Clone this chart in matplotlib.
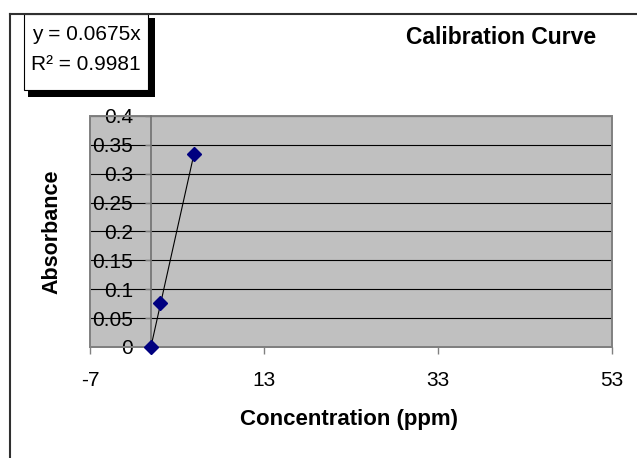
import matplotlib.pyplot as plt
from matplotlib.patches import Rectangle
from matplotlib.lines import Line2D
from matplotlib.ticker import FuncFormatter

plt.rcParams["font.family"] = ["Liberation Sans", "DejaVu Sans"]
plt.rcParams["axes.unicode_minus"] = False

# calibration data
concentration = [0, 1, 5]
absorbance = [0.0, 0.077, 0.334]
slope = 0.0675
r_squared = 0.9981
x_ticks = [-7, 13, 33, 53]
y_ticks = [0, 0.05, 0.1, 0.15, 0.2, 0.25, 0.3, 0.35, 0.4]

W, H = 637, 458
fig = plt.figure(figsize=(W / 100, H / 100), dpi=100)


def fx(px):
    return px / W


def fy(py):
    return 1 - py / H


ax = fig.add_axes([fx(90), fy(347), fx(612) - fx(90), fy(116) - fy(347)])
ax.set_facecolor("#C0C0C0")
ax.set_xlim(-7, 53)
ax.set_ylim(0, 0.4)

gray = "#808080"
# plot area border
ax.add_patch(Rectangle((0, 0), 1, 1, transform=ax.transAxes, fill=False,
                       edgecolor=gray, lw=1.4, clip_on=False, zorder=1))
for s in ["top", "right"]:
    ax.spines[s].set_visible(False)
ax.spines["left"].set_position(("data", 0))
ax.spines["left"].set_color("#707070")
ax.spines["left"].set_linewidth(1.2)
ax.spines["bottom"].set_color(gray)
ax.spines["bottom"].set_linewidth(1.2)

ax.set_xticks(x_ticks)
ax.set_yticks(y_ticks)
ax.xaxis.set_major_formatter(FuncFormatter(lambda v, p: f"{v:g}"))
ax.yaxis.set_major_formatter(FuncFormatter(lambda v, p: f"{v:g}"))
ax.tick_params(axis="y", direction="out", length=4, width=1, color=gray,
               labelsize=15, pad=9)
ax.tick_params(axis="x", direction="out", length=5, width=1, color=gray,
               labelsize=15, pad=12)
ax.yaxis.grid(True, color="black", lw=0.8)
ax.set_axisbelow(True)

# trendline through origin
xs = [0, max(concentration)]
ax.plot(xs, [slope * x for x in xs], color="black", lw=0.8, zorder=3)
ax.plot(concentration, absorbance, linestyle="none", marker="D", ms=7,
        color="#000080", zorder=4, clip_on=False)

fig.text(fx(349), fy(419), "Concentration (ppm)", ha="center", va="center",
         fontsize=16, fontweight="bold")
fig.text(fx(52), fy(232), "Absorbance", ha="center", va="center",
         rotation=90, fontsize=15.5, fontweight="bold")
fig.text(fx(501), fy(37), "Calibration Curve", ha="center", va="center",
         fontsize=16.5, fontweight="bold")

# chart frame (cut at right / bottom)
fig.add_artist(Line2D([fx(10), 1], [fy(14), fy(14)], color="#303030", lw=1.5))
fig.add_artist(Line2D([fx(10), fx(10)], [fy(14), 0], color="#303030", lw=1.5))

# equation box with shadow
fig.add_artist(Rectangle((fx(28), fy(97)), fx(155) - fx(28), fy(18) - fy(97),
                         transform=fig.transFigure, facecolor="black",
                         edgecolor="none"))
fig.add_artist(Rectangle((fx(24), fy(90)), fx(148) - fx(24), fy(14) - fy(90),
                         transform=fig.transFigure, facecolor="white",
                         edgecolor="black", lw=0.8))
fig.text(fx(86), fy(35), f"y = {slope}x", ha="center", va="center",
         fontsize=15)
fig.text(fx(86), fy(64), f"R\u00b2 = {r_squared}", ha="center", va="center",
         fontsize=15)

fig.savefig("out.png", dpi=100)
